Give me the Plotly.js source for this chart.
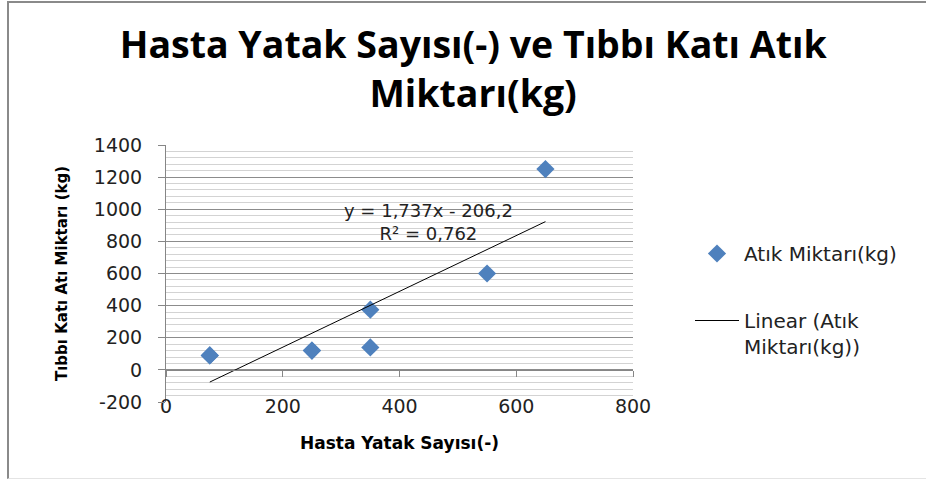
<!DOCTYPE html>
<html>
<head>
<meta charset="utf-8">
<script src="https://cdn.plot.ly/plotly-3.0.1.min.js"></script>
<style>
  html, body { margin: 0; padding: 0; background: #fff; }
  #chart { width: 926px; height: 481px; position: relative; }
  #frame { position: absolute; left: 7px; top: 1px; width: 919px; height: 478px;
           border-left: 2px solid #8a8a8a; border-top: 2px solid #8a8a8a;
           border-bottom: 1px solid #e4e4e4; box-sizing: border-box; pointer-events: none; }
</style>
</head>
<body>
<div id="chart"></div>
<div id="frame"></div>
<script>
// ---- data ----
const bedCounts = [75, 75, 250, 250, 350, 350, 550, 650];       // Hasta Yatak Sayısı(-)
const wasteKg   = [90, 90, 120, 120, 375, 140, 600, 1250];      // Atık Miktarı(kg)
const seriesName = 'Atık Miktarı(kg)';
const trendName = 'Linear (Atık<br>Miktarı(kg))';
const trendSlope = 1.737;
const trendIntercept = -206.2;
const trendLabel = 'y = 1,737x - 206,2<br>R² = 0,762';
const xTicks = [0, 200, 400, 600, 800];
const yTicks = [-200, 0, 200, 400, 600, 800, 1000, 1200, 1400];
const titleText = 'Hasta Yatak Sayısı(-) ve Tıbbı Katı Atık<br>Miktarı(kg)';
const xTitle = 'Hasta Yatak Sayısı(-)';
const yTitle = 'Tıbbı Katı Atı Miktarı (kg)';

const xMin = xTicks[0], xMax = xTicks[xTicks.length - 1];
const yMin = yTicks[0], yMax = yTicks[yTicks.length - 1];
const tMinX = Math.min(...bedCounts), tMaxX = Math.max(...bedCounts);
const trendX = [tMinX, tMaxX];
const trendY = trendX.map(v => trendSlope * v + trendIntercept);

const FONT = "'DejaVu Sans', Verdana, sans-serif";
const TFONT = "'Open Sans', Lato, sans-serif";
const axisGray = '#868686';

const traces = [
  {
    x: bedCounts, y: wasteKg, type: 'scatter', mode: 'markers', name: seriesName,
    legendgroup: 'a',
    marker: { symbol: 'diamond', size: 14, color: '#4f81bd', line: { width: 0 } }
  },
  {
    x: trendX, y: trendY, type: 'scatter', mode: 'lines', name: trendName,
    legendgroup: 'b', xaxis: 'x2',
    line: { color: '#000000', width: 1 }
  }
];

const layout = {
  width: 926, height: 481,
  margin: { l: 166, r: 293, t: 145, b: 79, pad: 0 },
  paper_bgcolor: '#ffffff', plot_bgcolor: '#ffffff',
  font: { family: FONT, color: '#1a1a1a' },
  title: {
    text: titleText, xref: 'container', x: 0.511, xanchor: 'center',
    yref: 'container', y: 1 - 58 / 481, yanchor: 'top',
    font: { family: TFONT, size: 37.5, color: '#000', weight: 'bold' }
  },
  xaxis: {
    range: [xMin, xMax], tickmode: 'array', tickvals: xTicks, ticktext: xTicks.map(String),
    showgrid: false, zeroline: false, showline: false, ticks: '', ticklabelstandoff: -9,
    tickfont: { size: 19, color: '#222' },
    title: { text: xTitle, standoff: 21, font: { size: 17, color: '#000', weight: 'bold' } }
  },
  xaxis2: {
    overlaying: 'x', matches: 'x', range: [xMin, xMax], anchor: 'free',
    position: (0 - yMin) / (yMax - yMin),
    tickmode: 'array', tickvals: xTicks, showticklabels: false, showgrid: false, zeroline: false,
    showline: true, linecolor: axisGray, linewidth: 1, ticks: 'outside', ticklen: 6, tickcolor: axisGray
  },
  yaxis: {
    range: [yMin, yMax], tickmode: 'array', tickvals: yTicks, ticktext: yTicks.map(String),
    showgrid: true, gridcolor: '#8c8c8c', gridwidth: 1, zeroline: false,
    minor: { dtick: 40, tick0: 0, showgrid: true, gridcolor: '#d3d3d3', gridwidth: 1, ticks: '' },
    showline: true, linecolor: axisGray, linewidth: 1, ticks: 'outside', ticklen: 7, tickcolor: axisGray,
    ticklabelstandoff: 12,
    tickfont: { size: 19, color: '#222' },
    title: { text: yTitle, standoff: 22, font: { size: 15, color: '#000', weight: 'bold' } }
  },
  showlegend: true,
  legend: {
    x: (690 - 166) / 467, xanchor: 'left', y: (402 - 234) / 257, yanchor: 'top',
    bgcolor: 'rgba(0,0,0,0)', borderwidth: 0, itemwidth: 44, valign: 'top',
    traceorder: 'grouped', tracegroupgap: 38,
    font: { family: FONT, size: 20, color: '#222' }
  },
  annotations: [{
    text: trendLabel, xref: 'x', yref: 'y', x: 449, y: 920, showarrow: false,
    xanchor: 'center', yanchor: 'middle', align: 'center',
    font: { family: FONT, size: 18, color: '#222' }
  }]
};

Plotly.newPlot('chart', traces, layout, { displayModeBar: false, staticPlot: true });
</script>
</body>
</html>
